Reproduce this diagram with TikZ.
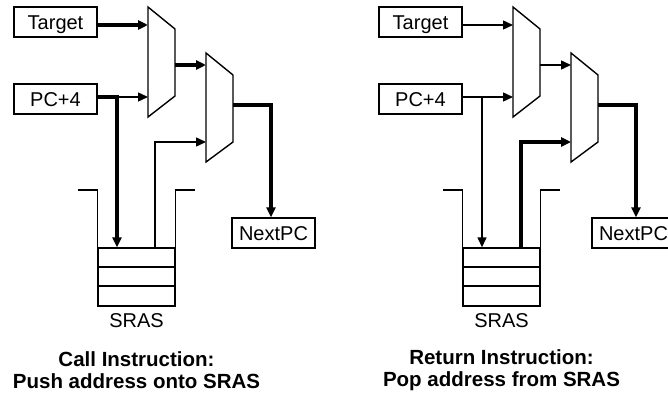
\documentclass[tikz,border=0pt]{standalone}
\usepackage{fontspec}
\setmainfont{Liberation Sans}
\usetikzlibrary{arrows.meta}
\begin{document}
\begin{tikzpicture}[x=1pt,y=-1pt,line join=miter,
  thinln/.style={line width=1.4pt},
  thickln/.style={line width=4pt},
  arr/.style={-{Triangle[length=10pt,width=9pt]}},
  box/.style={draw,line width=1.4pt,minimum width=83pt,minimum height=30pt,inner sep=0pt,
    text height=14.5pt,text depth=0pt,font=\fontsize{20}{24}\selectfont},
  muxshape/.style={draw,line width=1.4pt},
  stackbox/.style={draw,line width=1.4pt,minimum width=77pt,minimum height=58pt,inner sep=0pt},
  lbl/.style={inner sep=0pt,font=\fontsize{20}{24}\selectfont},
  caption/.style={inner sep=0pt,align=center,font=\fontsize{20.5}{22}\selectfont\bfseries}]
\useasboundingbox (0,0) rectangle (668,396);
\clip (0,0) rectangle (668,396);

% ---------------- left: call ----------------
\node[box] (tgtL) at (55.5,22) {Target};
\node[box] (pcL) at (55.5,99) {PC+4};
\node[box] (npL) at (273.5,233) {NextPC};
\draw[muxshape] (148,7) -- (175,29) -- (175,96) -- (148,117) -- cycle;
\draw[muxshape] (206,53) -- (233,75) -- (233,142) -- (206,162) -- cycle;
\coordinate (m1aL) at (148,25);
\coordinate (m1bL) at (148,97);
\coordinate (m1oL) at (175,65);
\coordinate (m2aL) at (206,65);
\coordinate (m2bL) at (206,142);
\coordinate (m2oL) at (233,105);
\coordinate (jL) at (117,97);
\coordinate (tL) at (271,105);
\coordinate (sL) at (155,142);
\node[stackbox] (stkL) at (136.5,277) {};
\draw[thinln] (stkL.west |- 0,267) -- (stkL.east |- 0,267);
\draw[thinln] (stkL.west |- 0,286) -- (stkL.east |- 0,286);
\draw[thinln] (78,190) -- (stkL.west |- 0,190) -- (stkL.north west);
\draw[thinln] (195,190) -- (stkL.east |- 0,190) -- (stkL.north east);
\node[lbl] (srasL) at (136.5,321) {SRAS};
\node[caption] (capL) at (136.5,370.5) {Call Instruction:\\Push address onto SRAS};

\draw[thickln,arr] (tgtL.east |- m1aL) -- (m1aL);
\draw[thinln,arr] (jL) -- (m1bL);
\draw[thickln,arr] (pcL.east |- jL) -- (jL) -- (jL |- stkL.north);
\draw[thickln,arr] (m1oL) -- (m2aL);
\draw[thickln,arr] (m2oL) -- (tL) -- (tL |- npL.north);
\draw[thinln,arr] (sL |- stkL.north) -- (sL) -- (m2bL);

% ---------------- right: return ----------------
\begin{scope}[xshift=365pt]
\node[box] (tgtR) at (55.5,22) {Target};
\node[box] (pcR) at (55.5,99) {PC+4};
\node[box] (npR) at (268.5,233) {NextPC};
\draw[muxshape] (148,7) -- (175,29) -- (175,96) -- (148,117) -- cycle;
\draw[muxshape] (206,53) -- (233,75) -- (233,142) -- (206,162) -- cycle;
\coordinate (m1aR) at (148,25);
\coordinate (m1bR) at (148,97);
\coordinate (m1oR) at (175,65);
\coordinate (m2aR) at (206,65);
\coordinate (m2bR) at (206,142);
\coordinate (m2oR) at (233,105);
\coordinate (jR) at (117,97);
\coordinate (tR) at (271,105);
\coordinate (sR) at (155.5,142);
\node[stackbox] (stkR) at (136.5,277) {};
\draw[thinln] (stkR.west |- 0,267) -- (stkR.east |- 0,267);
\draw[thinln] (stkR.west |- 0,286) -- (stkR.east |- 0,286);
\draw[thinln] (78,190) -- (stkR.west |- 0,190) -- (stkR.north west);
\draw[thinln] (195,190) -- (stkR.east |- 0,190) -- (stkR.north east);
\node[lbl] (srasR) at (136.5,321) {SRAS};
\node[caption] (capR) at (136.5,370.5) {Return Instruction:\\Pop address from SRAS};

\draw[thinln,arr] (tgtR.east |- m1aR) -- (m1aR);
\draw[thinln,arr] (pcR.east |- m1bR) -- (m1bR);
\draw[thinln,arr] (jR) -- (jR |- stkR.north);
\draw[thinln,arr] (m1oR) -- (m2aR);
\draw[thickln,arr] (m2oR) -- (tR) -- (tR |- npR.north);
\draw[thickln,arr] (sR |- stkR.north) -- (sR) -- (m2bR);
\end{scope}
\end{tikzpicture}
\end{document}
